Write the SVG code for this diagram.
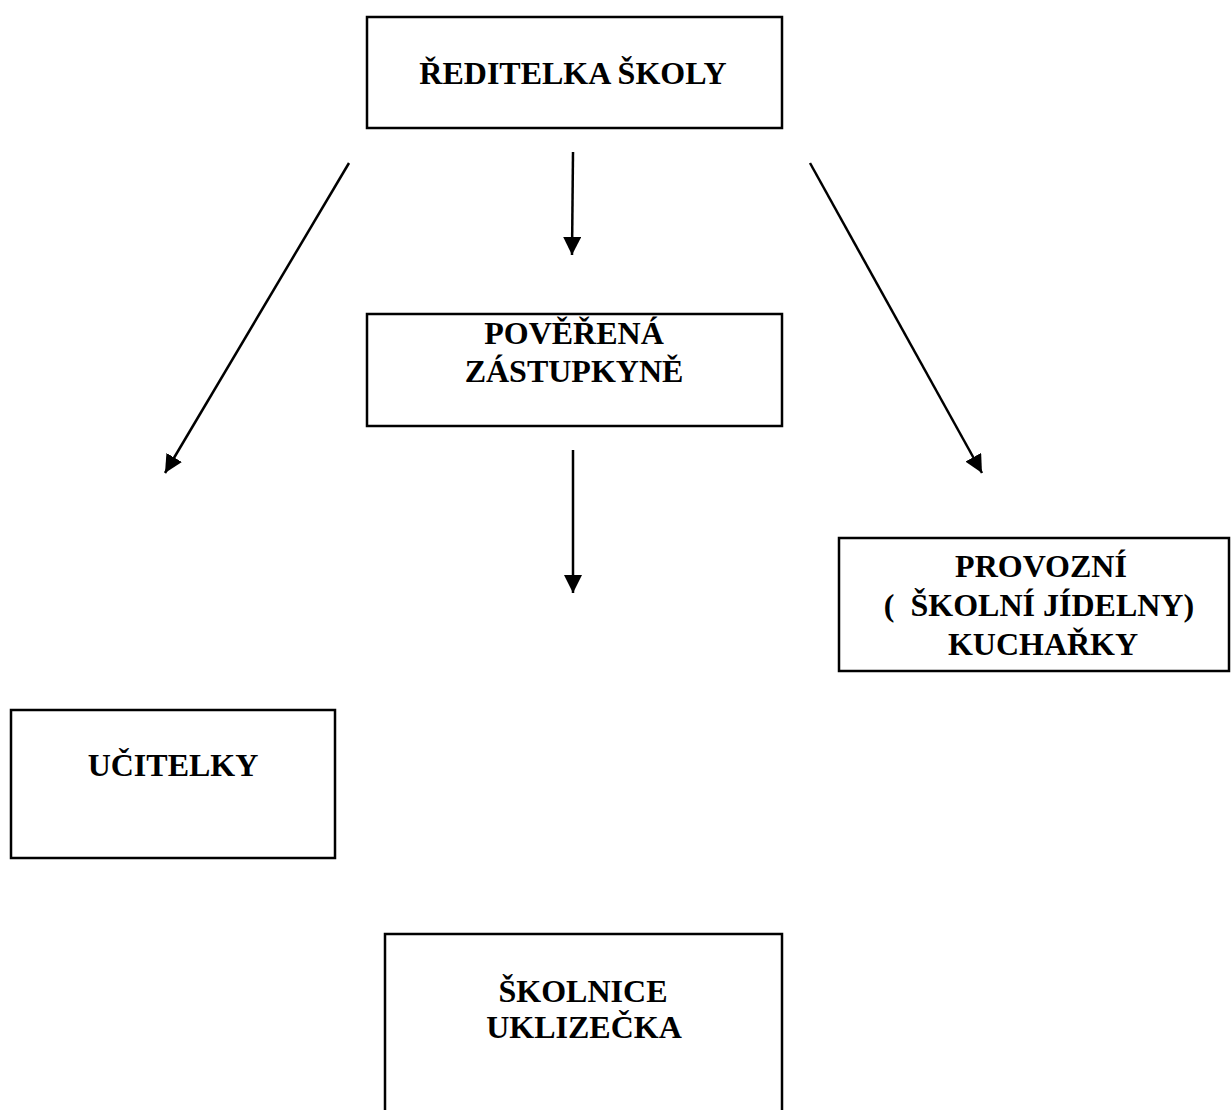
<svg xmlns="http://www.w3.org/2000/svg" width="1232" height="1110" viewBox="0 0 1232 1110">
<style>
.box{fill:#fff;stroke:#000;stroke-width:2.5}
.lbl{font-family:"Liberation Serif","Times New Roman",serif;font-weight:bold;font-size:32px;fill:#000;text-anchor:middle}
.conn{stroke:#000;stroke-width:2.5;fill:none;marker-end:url(#ah)}
</style>
<defs>
<marker id="ah" markerUnits="userSpaceOnUse" markerWidth="18" markerHeight="18" viewBox="0 0 16 16" refX="16" refY="8" orient="auto">
<path d="M0,0 L16,8 L0,16 Z" fill="#000"/>
</marker>
</defs>
<rect width="1232" height="1110" fill="#fff"/>
<g id="connectors">
<line class="conn" x1="573" y1="152" x2="572" y2="255"/>
<line class="conn" x1="349" y1="163" x2="165" y2="473"/>
<line class="conn" x1="810" y1="163" x2="982" y2="473"/>
<line class="conn" x1="573" y1="450" x2="573" y2="593"/>
</g>
<g id="reditelka">
<rect class="box" x="367" y="17" width="415" height="111"/>
<text class="lbl" x="573" y="84">ŘEDITELKA ŠKOLY</text>
</g>
<g id="zastupkyne">
<rect class="box" x="367" y="314" width="415" height="112"/>
<text class="lbl" x="574" y="344">POVĚŘENÁ</text>
<text class="lbl" x="574" y="382">ZÁSTUPKYNĚ</text>
</g>
<g id="provozni">
<rect class="box" x="839" y="538" width="390" height="133"/>
<text class="lbl" x="1041" y="577">PROVOZNÍ</text>
<text class="lbl" x="1039" y="616" xml:space="preserve">(  ŠKOLNÍ JÍDELNY)</text>
<text class="lbl" x="1043" y="655">KUCHAŘKY</text>
</g>
<g id="ucitelky">
<rect class="box" x="11" y="710" width="324" height="148"/>
<text class="lbl" x="173" y="776">UČITELKY</text>
</g>
<g id="skolnice">
<rect class="box" x="385" y="934" width="397" height="190"/>
<text class="lbl" x="583" y="1002">ŠKOLNICE</text>
<text class="lbl" x="584" y="1038">UKLIZEČKA</text>
</g>
</svg>
